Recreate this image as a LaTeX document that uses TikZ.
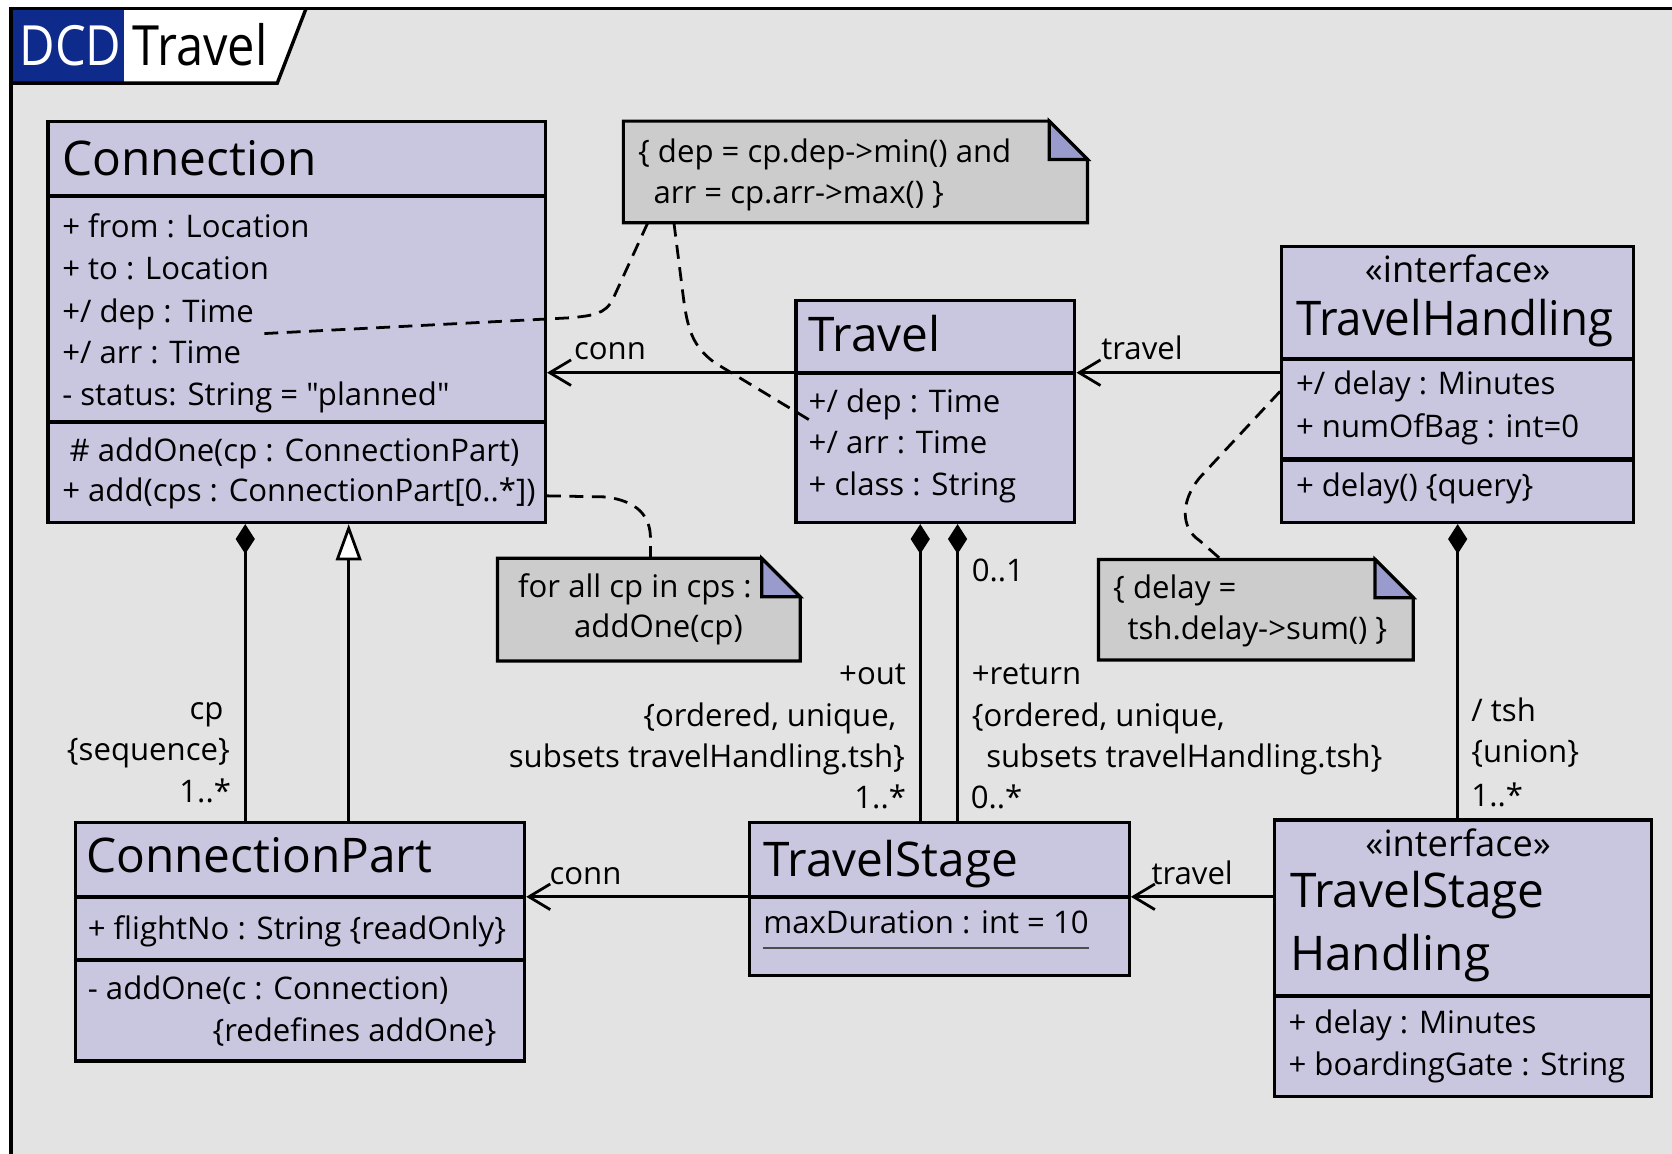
\documentclass[tikz,border=0pt]{standalone}
\usepackage{fontspec}
\setmainfont{Open Sans}[Ligatures=TeXOff]
\usetikzlibrary{arrows.meta,fit,calc}
\definecolor{bgc}{HTML}{E3E3E3}
\definecolor{boxc}{HTML}{C9C7E0}
\definecolor{notec}{HTML}{CCCCCC}
\definecolor{foldc}{HTML}{9A9BCD}
\definecolor{tabblue}{HTML}{0E2A8A}
\begin{document}
\begin{tikzpicture}[x=0.5pt,y=-0.5pt,
  umlbox/.style={draw, line width=1.5pt, fill=boxc, inner sep=0pt},
  area/.style={inner sep=0pt},
  sepline/.style={line width=2pt},
  notebody/.style={draw, line width=1.5pt, fill=notec},
  foldtri/.style={draw, line width=1.5pt, fill=foldc},
  txt/.style={inner sep=0pt, anchor=base west, font=\fontsize{14.6}{18}\selectfont},
  txtr/.style={inner sep=0pt, anchor=base east, font=\fontsize{14.6}{18}\selectfont},
  ttl/.style={inner sep=0pt, anchor=base west, font=\fontsize{22.4}{26}\selectfont},
  stereo/.style={inner sep=0pt, anchor=base, font=\fontsize{17}{20}\selectfont},
  assoc/.style={line width=1.3pt, -{Straight Barb[length=10pt,width=12pt]}},
  comp/.style={line width=1.3pt, {Diamond[length=14pt,width=9pt]}-},
  gen/.style={line width=1.3pt, -{Triangle[length=17pt,width=12pt,fill=white]}},
  dep/.style={line width=1.3pt, dash pattern=on 6.5pt off 4pt}
]
\useasboundingbox (0,0) rectangle (1568,1082);
\fill[white] (0,0) rectangle (1568,1082);
\fill[bgc] (10,8) rectangle (1568,1082);
% tab
\fill[white] (10,8) -- (287,8) -- (260,78) -- (10,78) -- cycle;
\fill[tabblue] (10,8) rectangle (116.5,78);
\draw[line width=1.6pt] (287,8) -- (260,78) -- (10,78);
\draw[line width=1.8pt] (10,1082) -- (10,8) -- (1568,8);
\node[inner sep=0pt, anchor=base west, text=white, font=\fontsize{26}{30}\selectfont] (tabdcd) at (18,61.5) {\scalebox{0.88}[1]{DCD}};
\node[inner sep=0pt, anchor=base west, font=\fontsize{26}{30}\selectfont] (tabname) at (124,61.5) {\scalebox{0.88}[1]{Travel}};

% ---------- boxes ----------
\node[umlbox, fit={(45,114) (511.5,490)}] (connection) {};
\node[umlbox, fit={(746.5,281.5) (1008,490)}] (travel) {};
\node[umlbox, fit={(1202,231) (1532,490)}] (th) {};
\node[umlbox, fit={(71,771) (492,995)}] (cpart) {};
\node[umlbox, fit={(702.5,771.5) (1059,915)}] (tstage) {};
\node[umlbox, fit={(1195,769) (1548.5,1028.5)}] (tsh) {};

\coordinate (ya) at (0,349.5);
\coordinate (yb) at (0,841);
\coordinate (yc1) at (0,184);
\coordinate (yc2) at (0,395.5);
\coordinate (yt1) at (0,337);
\coordinate (yt2) at (0,431);
\coordinate (ycp) at (0,900);
\coordinate (yh) at (0,934);

\draw[sepline] (connection.west |- yc1) -- (connection.east |- yc1);
\draw[sepline] (connection.west |- yc2) -- (connection.east |- yc2);
\draw[sepline] (travel.west |- ya) -- (travel.east |- ya);
\draw[sepline] (th.west |- yt1) -- (th.east |- yt1);
\draw[sepline] (th.west |- yt2) -- (th.east |- yt2);
\draw[sepline] (cpart.west |- yb) -- (cpart.east |- yb);
\draw[sepline] (cpart.west |- ycp) -- (cpart.east |- ycp);
\draw[sepline] (tstage.west |- yb) -- (tstage.east |- yb);
\draw[sepline] (tsh.west |- yh) -- (tsh.east |- yh);

% ---------- notes ----------
\node[area, fit={(585,114) (1019.5,208.5)}] (note1) {};
\node[area, fit={(467,524) (750,619.5)}] (note2) {};
\node[area, fit={(1030.5,525) (1325,618.5)}] (note3) {};
\foreach \n in {note1,note2,note3}{
  \draw[notebody] (\n.south west) -- (\n.north west) -- ([xshift=-18pt]\n.north east)
     -- ([yshift=-18pt]\n.north east) -- (\n.south east) -- cycle;
  \draw[foldtri] ([xshift=-18pt]\n.north east) -- ([xshift=-18pt,yshift=-18pt]\n.north east)
     -- ([yshift=-18pt]\n.north east) -- cycle;
}

% ---------- texts: Connection ----------
\node[ttl] (connT) at (58,165) {Connection};
\node[txt] (c1) at (58,222.5) {+ from : Location};
\node[txt] (c2) at (58,262) {+ to : Location};
\node[txt] (c3) at (58,302) {+/ dep : Time};
\node[txt] (c4) at (58,341) {+/ arr : Time};
\node[txt] (c5) at (58,380) {- status: String = "planned"};
\node[txt] (c6) at (65,432.5) {\# addOne(cp : ConnectionPart)};
\node[txt] (c7) at (58,470.5) {+ add(cps : ConnectionPart[0..*])};

% Travel
\node[ttl] (travT) at (758,330) {Travel};
\node[txt] (tr1) at (758,387) {+/ dep : Time};
\node[txt] (tr2) at (758,425.5) {+/ arr : Time};
\node[txt] (tr3) at (758,465) {+ class : String};

% TravelHandling
\node[stereo] (thS) at (1367,264.5) {«interface»};
\node[ttl] (thT) at (1215,315) {\scalebox{0.955}[1]{TravelHandling}};
\node[txt] (th1) at (1215,370) {+/ delay : Minutes};
\node[txt] (th2) at (1215,410) {+ numOfBag : int=0};
\node[txt] (th3) at (1215,465.5) {+ delay() \{query\}};

% notes text
\node[txt] (n1a) at (598,152.5) {\{ dep = cp.dep->min() and};
\node[txt] (n1b) at (612.5,191) {arr = cp.arr->max() \}};
\node[txt] (n2a) at (485.5,560) {for all cp in cps :};
\node[txt] (n2b) at (538,597.5) {addOne(cp)};
\node[txt] (n3a) at (1043.5,561.5) {\{ delay =};
\node[txt] (n3b) at (1057,600) {tsh.delay->sum() \}};

% ConnectionPart
\node[ttl] (cpT) at (80.5,818.5) {ConnectionPart};
\node[txt] (cp1) at (82,881) {+ flightNo : String \{readOnly\}};
\node[txt] (cp2) at (82,937) {- addOne(c : Connection)};
\node[txtr] (cp3) at (466,977) {\{redefines addOne\}};

% TravelStage
\node[ttl] (tsT) at (715.5,821.5) {TravelStage};
\node[txt] (ts1) at (715.5,875.5) {maxDuration : int = 10};
\coordinate (yul) at (0,889);
\draw[line width=1.3pt, black!70] (ts1.west |- yul) -- (ts1.east |- yul);

% TravelStageHandling
\node[stereo] (tshS) at (1367.5,803.5) {«interface»};
\node[ttl] (tshT) at (1209.5,851.5) {TravelStage};
\node[ttl] (tshT2) at (1209.5,910.5) {Handling};
\node[txt] (tsh1) at (1208,969.5) {+ delay : Minutes};
\node[txt] (tsh2) at (1208,1008.5) {+ boardingGate : String};

% ---------- connectors ----------
\draw[assoc] (travel.west |- ya) -- (connection.east |- ya);
\draw[assoc] (th.west |- ya) -- (travel.east |- ya);
\draw[assoc] (tstage.west |- yb) -- (cpart.east |- yb);
\draw[assoc] (tsh.west |- yb) -- (tstage.east |- yb);

\coordinate (x230) at (230,0);
\coordinate (x327) at (327,0);
\coordinate (x863) at (863,0);
\coordinate (x898) at (898,0);
\coordinate (x1367) at (1367,0);
\draw[comp] (connection.south -| x230) -- (cpart.north -| x230);
\draw[gen] (cpart.north -| x327) -- (connection.south -| x327);
\draw[comp] (travel.south -| x863) -- (tstage.north -| x863);
\draw[comp] (travel.south -| x898) -- (tstage.north -| x898);
\draw[comp] (th.south -| x1367) -- (tsh.north -| x1367);

% association labels
\node[txt] (lconn1) at (538,337) {conn};
\node[txt] (ltrav1) at (1032.5,337) {travel};
\node[txt] (lconn2) at (515,829.5) {conn};
\node[txt] (ltrav2) at (1079.5,829.5) {travel};
\node[txtr] (lcp1) at (210,675) {cp};
\node[txtr] (lcp2) at (216,713.5) {\{sequence\}};
\node[txtr] (lcp3) at (217,753) {1..*};
\node[txtr] (lo1) at (850,641.5) {+out};
\node[txtr] (lo2) at (841,681.5) {\{ordered, unique,};
\node[txtr] (lo3) at (849,720) {subsets travelHandling.tsh\}};
\node[txtr] (lo4) at (850,758.5) {1..*};
\node[txt] (lr0) at (911,545) {0..1};
\node[txt] (lr1) at (911,641.5) {+return};
\node[txt] (lr2) at (911,681.5) {\{ordered, unique,};
\node[txt] (lr3) at (924.5,720) {subsets travelHandling.tsh\}};
\node[txt] (lr4) at (910,758.5) {0..*};
\node[txt] (lt1) at (1379.5,677) {/ tsh};
\node[txt] (lt2) at (1379.5,715.5) {\{union\}};
\node[txt] (lt3) at (1379.5,756) {1..*};

% ---------- dependency (note) lines ----------
\coordinate (x607) at (607.5,0);
\coordinate (x632) at (632,0);
\coordinate (x610) at (610,0);
\coordinate (x1145) at (1145,0);
\coordinate (y465) at (0,465);
\coordinate (y367) at (0,367);
\coordinate (depend) at (244,313);
\coordinate (arrend) at (761,395);
\draw[dep] (note1.south -| x607) -- (575,280) .. controls (568,295) and (555,296) .. (535,298) -- (depend);
\draw[dep] (note1.south -| x632) -- (641,280) .. controls (645,310) and (650,325) .. (670,340) -- (arrend);
\draw[dep] (connection.east |- y465) -- (568,466) .. controls (598,470) and (610,484) .. (610,505) -- (note2.north -| x610);
\draw[dep] (th.west |- y367) -- (1125,448) .. controls (1107,470) and (1107,495) .. (1125,507) -- (note3.north -| x1145);
\end{tikzpicture}
\end{document}
